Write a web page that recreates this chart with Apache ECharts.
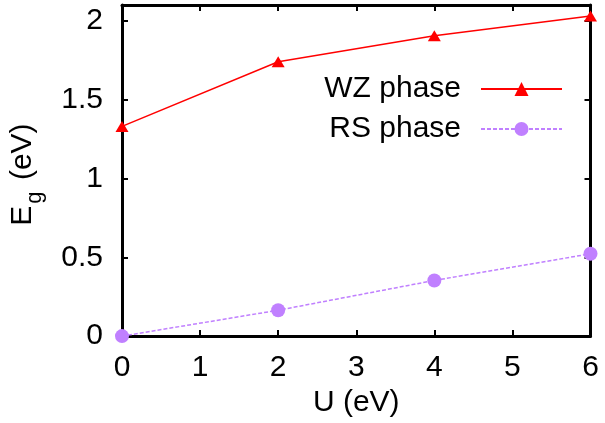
<!DOCTYPE html>
<html>
<head>
<meta charset="utf-8">
<script src="https://cdn.jsdelivr.net/npm/echarts@6/dist/echarts.min.js"></script>
<style>html,body{margin:0;padding:0;background:#fff}#c{width:605px;height:423px}</style>
</head>
<body>
<div id="c"></div>
<script>
var uValues = [0, 2, 4, 6];
var wzValues = [1.33, 1.74, 1.905, 2.03];
var rsValues = [0, 0.164, 0.353, 0.522];
var xTicks = [0, 1, 2, 3, 4, 5, 6];
var yTicks = [0, 0.5, 1, 1.5, 2];
var seriesNames = ['WZ phase', 'RS phase'];

var FONT = '"Liberation Sans", Arial, sans-serif';
var FS = 30;
function pairs(xs, ys) { return xs.map(function (x, i) { return [x, ys[i]]; }); }

var chart = echarts.init(document.getElementById('c'), null, {renderer: 'canvas'});
var axisLine = {show: true, onZero: false, lineStyle: {color: '#000', width: 3}};
var axisTick = {show: true, inside: true, length: 6, lineStyle: {color: '#000', width: 2}};
chart.setOption({
  animation: false,
  backgroundColor: '#fff',
  textStyle: {fontFamily: FONT},
  grid: {left: 118.5, right: 14.5, top: 5, bottom: 85.5, containLabel: false},
  legend: {
    orient: 'vertical', right: 42, top: 74, align: 'right', padding: 0,
    itemWidth: 81, itemHeight: 17.5, itemGap: 10,
    data: seriesNames,
    textStyle: {fontFamily: FONT, fontSize: FS, color: '#000', padding: [0, 15, 0, 0], lineHeight: 30}
  },
  xAxis: [{
    type: 'value', min: xTicks[0], max: xTicks[xTicks.length - 1], interval: 1,
    name: 'U (eV)', nameLocation: 'middle', nameGap: 44,
    nameTextStyle: {fontFamily: FONT, fontSize: FS, color: '#000'},
    axisLine: axisLine, axisTick: axisTick, splitLine: {show: false},
    axisLabel: {color: '#000', fontFamily: FONT, fontSize: FS, margin: 17}
  }, {
    type: 'value', position: 'top', min: xTicks[0], max: xTicks[xTicks.length - 1], interval: 1,
    axisLine: axisLine, axisTick: axisTick, splitLine: {show: false}, axisLabel: {show: false}
  }],
  yAxis: [{
    type: 'value', min: 0, max: 2.1, interval: 0.5,
    name: '{a|E}{sub|g}{a| (eV)}', nameLocation: 'middle', nameGap: 76, nameRotate: 90,
    nameTextStyle: {
      fontFamily: FONT, fontSize: FS, color: '#000', padding: [0, 8, 0, 0],
      rich: {
        a: {fontFamily: FONT, fontSize: FS, color: '#000', lineHeight: 46, verticalAlign: 'middle'},
        sub: {fontFamily: FONT, fontSize: 22, color: '#000', lineHeight: 46, verticalAlign: 'bottom', padding: [0, 3, 0, 2]}
      }
    },
    axisLine: axisLine, axisTick: axisTick, splitLine: {show: false},
    axisLabel: {color: '#000', fontFamily: FONT, fontSize: FS, margin: 19,
      formatter: function (v) { return yTicks.indexOf(v) >= 0 ? String(v) : ''; }}
  }, {
    type: 'value', position: 'right', min: 0, max: 2.1, interval: 0.5,
    axisLine: axisLine, axisTick: axisTick, splitLine: {show: false}, axisLabel: {show: false}
  }],
  series: [{
    name: seriesNames[0], type: 'line', data: pairs(uValues, wzValues),
    symbol: 'triangle', symbolSize: [13, 11], clip: false,
    lineStyle: {color: '#ff0000', width: 1.5},
    itemStyle: {color: '#ff0000'}
  }, {
    name: seriesNames[1], type: 'line', data: pairs(uValues, rsValues),
    symbol: 'circle', symbolSize: 14, clip: false,
    lineStyle: {color: '#c080ff', width: 1.5, type: [4, 2]},
    itemStyle: {color: '#c080ff'}
  }]
});
</script>
</body>
</html>
